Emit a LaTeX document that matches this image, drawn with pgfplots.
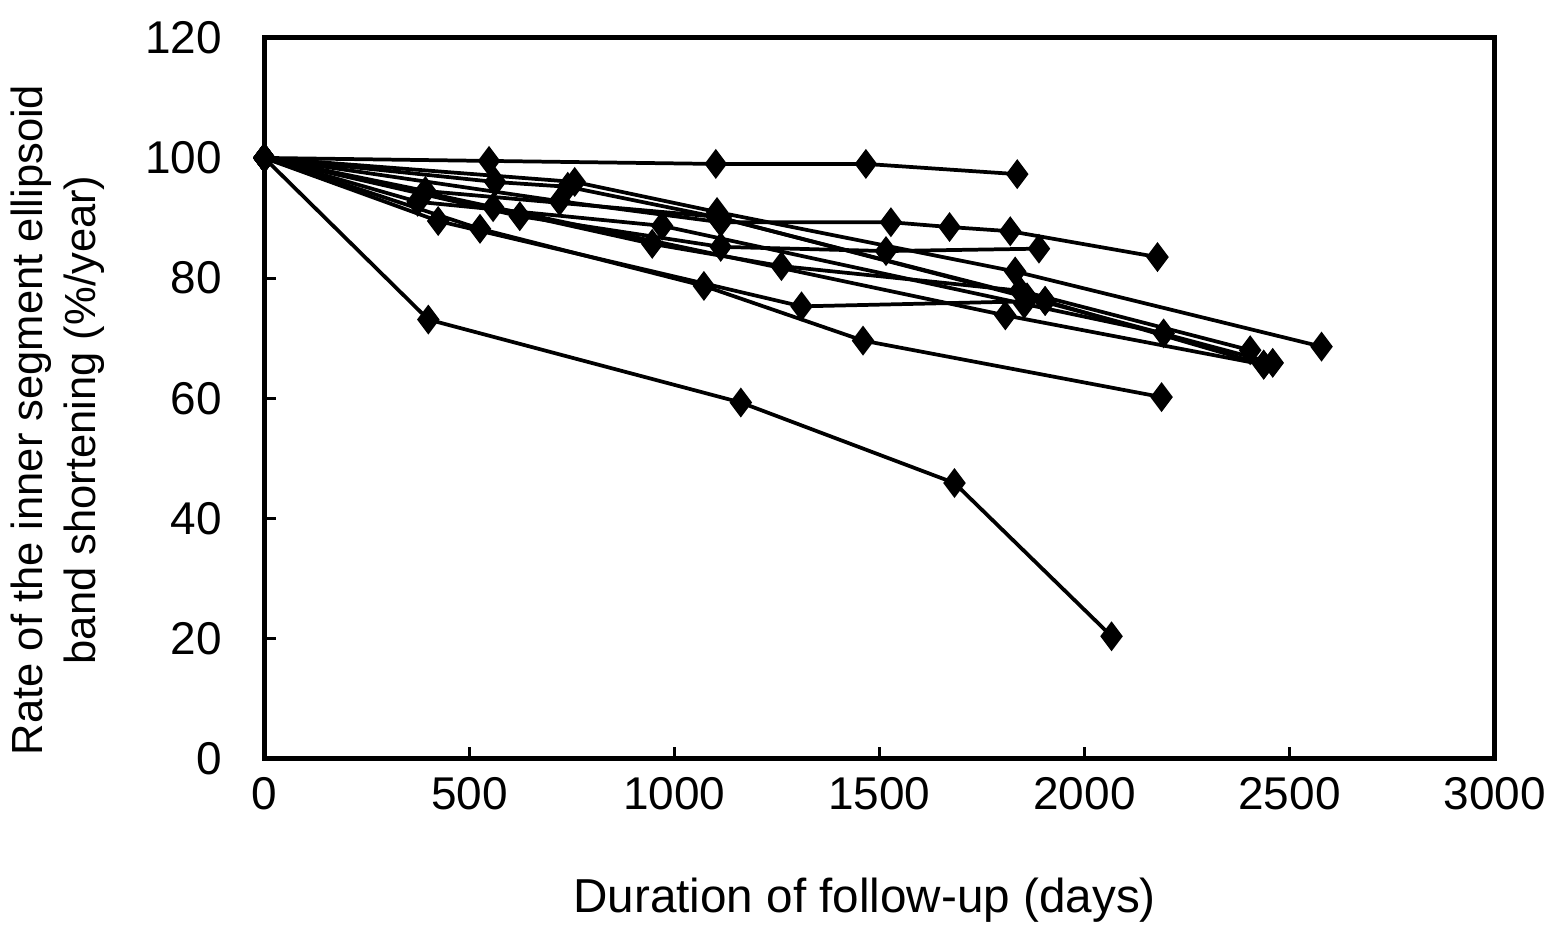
\documentclass[border=0pt]{standalone}
\usepackage{pgfplots}
\pgfplotsset{compat=1.18}
\usepackage{fontspec}
\setmainfont{Liberation Sans}
\begin{document}
\begin{tikzpicture}
\begin{axis}[
  scale only axis,
  width=12.71cm, height=7.45cm,
  xmin=0, xmax=3000, ymin=0, ymax=120,
  xtick={0,500,...,3000}, ytick={0,20,...,120},
  tick align=inside, xtick pos=bottom, ytick pos=left,
  major tick length=3.5pt,
  axis line style={line width=1.5pt},
  tick style={line width=0.9pt, black},
  /pgf/number format/assume math mode=true,
  /pgf/number format/1000 sep={},
  ticklabel style={font=\fontsize{13.5}{16}\selectfont},
  xticklabel style={yshift=-2pt},
  yticklabel style={xshift=-9pt},
  xlabel={Duration of follow-up (days)},
  xlabel style={font=\fontsize{14}{16}\selectfont, yshift=-13pt, at={(ticklabel cs:0.488)}},
  ylabel style={font=\fontsize{12.8}{15.5}\selectfont, align=center, yshift=5pt, at={(ticklabel cs:0.47)}},
  ylabel={Rate of the inner segment ellipsoid\\band shortening (\%/year)},
  every axis plot post/.append style={black, solid, line width=1.1pt, mark=diamond*,
    mark size=3.5pt, mark options={solid, fill=black}},
  clip=false,
]
\addplot coordinates {(0,100) (548,99.5) (1101,99.0) (1467,99.0) (1836,97.3)};
\addplot coordinates {(0,100) (400,73.1) (1162,59.3) (1683,45.9) (2066,20.4)};
\addplot coordinates {(0,100) (526,88.2) (1072,78.7) (1460,69.6) (2188,60.2)};
\addplot coordinates {(0,100) (720,92.8) (1113,89.3) (1528,89.3) (1671,88.5) (1819,87.8) (2178,83.5)};
\addplot coordinates {(0,100) (623,90.3) (1113,85.2) (1516,84.5) (1889,84.9)};
\addplot coordinates {(0,100) (757,96.0) (1104,91.0) (1831,81.1) (2578,68.6)};
\addplot coordinates {(0,100) (946,85.7) (1261,82.0) (1843,77.9) (2404,68.0)};
\addplot coordinates {(0,100) (424,89.5) (1310,75.3) (1904,76.2) (2437,65.6)};
\addplot coordinates {(0,100) (374,92.7) (970,88.7) (1853,75.7) (2193,70.8)};
\addplot coordinates {(0,100) (393,94.5) (1104,90.2) (1860,76.8) (2459,65.9)};
\addplot coordinates {(0,100) (558,91.8) (1807,73.8) (2437,65.6)};
\addplot coordinates {(0,100) (563,96.0) (740,95.2) (1113,90.0) (1904,76.2)};
\end{axis}
\path ([yshift=0.39cm]current axis.north);
\end{tikzpicture}
\end{document}
